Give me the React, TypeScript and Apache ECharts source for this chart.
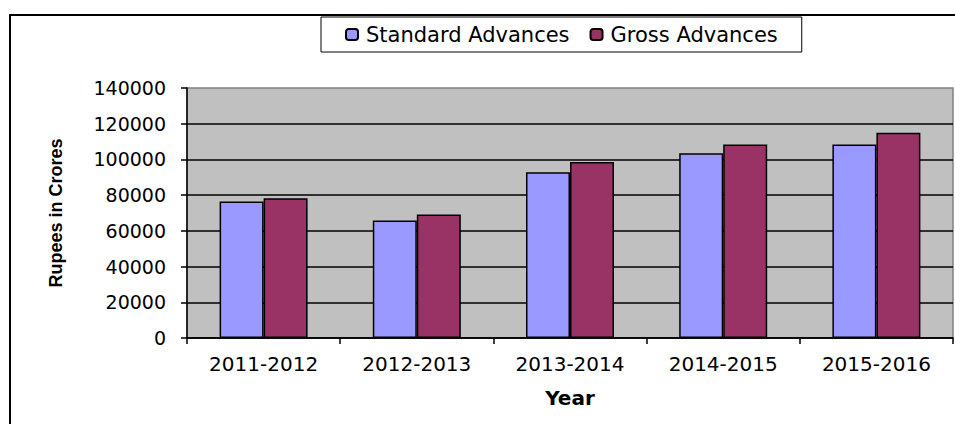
import React, { useEffect, useRef } from "react";
import * as echarts from "echarts";

const categories = ["2011-2012", "2012-2013", "2013-2014", "2014-2015", "2015-2016"];
const standardAdvances = [76400, 65800, 92800, 103500, 108300];
const grossAdvances = [78300, 69100, 98600, 108300, 115000];
const seriesNames = ["Standard Advances", "Gross Advances"];
const yAxisTitle = "Rupees in Crores";
const xAxisTitle = "Year";

export default function App() {
  const ref = useRef<HTMLDivElement>(null);
  useEffect(() => {
    if (!ref.current) return;
    const chart = echarts.init(ref.current, undefined, { renderer: "svg" });
    chart.setOption({
      animation: false,
      backgroundColor: "#ffffff",
      graphic: [
        {
          type: "rect",
          shape: { x: 10, y: 15, width: 960, height: 430 },
          style: { fill: "none", stroke: "#000", lineWidth: 2 },
          silent: true,
          z: 100,
        },
      ],
      legend: {
        left: 321,
        top: 17,
        orient: "horizontal",
        itemWidth: 12,
        itemHeight: 11,
        itemGap: 20,
        padding: [7, 24],
        borderColor: "#000",
        borderWidth: 1,
        backgroundColor: "#fff",
        textStyle: { fontFamily: "DejaVu Sans", fontSize: 21, color: "#000", padding: [0, 0, 0, 3] },
        data: seriesNames,
      },
      grid: {
        left: 187,
        top: 88,
        right: 2,
        bottom: 86,
        show: true,
        backgroundColor: "#C0C0C0",
        borderColor: "#808080",
        borderWidth: 1.5,
      },
      xAxis: {
        type: "category",
        data: categories,
        name: xAxisTitle,
        nameLocation: "middle",
        nameGap: 50,
        nameTextStyle: { fontFamily: "DejaVu Sans", fontWeight: "bold", fontSize: 20, color: "#000" },
        axisLine: { lineStyle: { color: "#000", width: 1.5 } },
        axisTick: { show: true, length: 6, lineStyle: { color: "#000", width: 1.5 } },
        axisLabel: { fontFamily: "DejaVu Sans", fontSize: 20, color: "#000", margin: 16 },
      },
      yAxis: {
        type: "value",
        min: 0,
        max: 140000,
        interval: 20000,
        name: yAxisTitle,
        nameLocation: "middle",
        nameGap: 122,
        nameTextStyle: { fontFamily: "Liberation Sans", fontWeight: "bold", fontSize: 18, color: "#000" },
        axisLine: { show: true, lineStyle: { color: "#000", width: 1.5 } },
        axisTick: { show: true, length: 6, lineStyle: { color: "#000", width: 1.5 } },
        axisLabel: {
          fontFamily: "DejaVu Sans",
          fontSize: 19,
          color: "#000",
          margin: 21,
          formatter: (v: number) => String(v),
        },
        splitLine: {
          show: true,
          lineStyle: {
            color: ["#000", "#000", "#000", "#000", "#000", "#000", "#000", "rgba(0,0,0,0)"],
            width: 1.5,
          },
        },
      },
      series: [
        {
          name: seriesNames[0],
          type: "bar",
          data: standardAdvances,
          barWidth: 44,
          barGap: "0%",
          itemStyle: { color: "#9999FF", borderColor: "#000", borderWidth: 1.5 },
        },
        {
          name: seriesNames[1],
          type: "bar",
          data: grossAdvances,
          barWidth: 44,
          barGap: "0%",
          itemStyle: { color: "#993366", borderColor: "#000", borderWidth: 1.5 },
        },
      ],
    });
    return () => chart.dispose();
  }, []);
  return (
    <div
      ref={ref}
      style={{ position: "absolute", left: 0, top: 0, width: 955, height: 424 }}
    />
  );
}
